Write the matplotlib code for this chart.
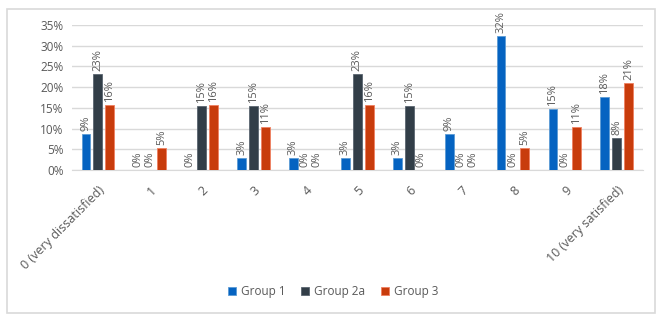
import matplotlib
matplotlib.use("Agg")
import matplotlib.pyplot as plt
from matplotlib.patches import Rectangle
from matplotlib.ticker import PercentFormatter
import numpy as np

categories = ["0 (very dissatisfied)", "1", "2", "3", "4", "5", "6", "7", "8", "9", "10 (very satisfied)"]
group1 = [8.8, 0, 0, 2.9, 2.9, 2.9, 2.9, 8.8, 32.4, 14.7, 17.6]
group2a = [23.1, 0, 15.4, 15.4, 0, 23.1, 15.4, 0, 0, 0, 7.7]
group3 = [15.8, 5.3, 15.8, 10.5, 0, 15.8, 0, 0, 5.3, 10.5, 21.1]
series_names = ["Group 1", "Group 2a", "Group 3"]
colors = ["#0563C1", "#323E48", "#C83C0C"]
edges = ["#5B9BD5", "#5A6570", "#F08060"]

plt.rcParams['font.family'] = ['Open Sans', 'DejaVu Sans']
fig = plt.figure(figsize=(6.66, 3.21), dpi=100)
ax = fig.add_axes([0.108, 0.47, 0.857, 0.452])

x = np.arange(len(categories))
w = 0.17
offs = [-0.23, 0, 0.23]
txtc = "#595959"
for vals, name, c, e, o in zip([group1, group2a, group3], series_names, colors, edges, offs):
    ax.bar(x + o, vals, w, color=c, edgecolor=e, linewidth=0.6, label=name, zorder=3)
    for xi, v in zip(x, vals):
        ax.text(xi + o, v + 0.7, f"{int(v + 0.5)}%", rotation=90, ha="center", va="bottom",
                fontsize=8, color=txtc, zorder=4)

ax.set_xlim(-0.5, len(categories) - 0.5)
ax.set_ylim(0, 35)
ax.set_yticks(np.arange(0, 36, 5))
ax.yaxis.set_major_formatter(PercentFormatter(decimals=0))
ax.grid(axis="y", color="#D9D9D9", linewidth=1, zorder=0)
for s in ["top", "right", "left"]:
    ax.spines[s].set_visible(False)
ax.spines["bottom"].set_color("#D9D9D9")
ax.tick_params(axis="both", length=0, colors=txtc, labelsize=8.5)
ax.tick_params(axis="y", pad=6)
ax.set_xticks(x)
ax.set_xticklabels(categories, rotation=45, ha="right", rotation_mode="anchor", fontsize=9)
ax.tick_params(axis="x", pad=10)

leg = fig.legend(loc="center", bbox_to_anchor=(0.5, 0.092), ncol=3, frameon=False,
                 fontsize=8.5, handlelength=0.7, handleheight=0.7, columnspacing=1.3, handletextpad=0.4)
for t in leg.get_texts():
    t.set_color(txtc)

fig.patches.append(Rectangle((7 / 666, 1 - 313 / 321), 648 / 666, 304 / 321, transform=fig.transFigure,
                             fill=False, edgecolor="#D9D9D9", linewidth=1.2))
fig.savefig("out.png", dpi=100)
